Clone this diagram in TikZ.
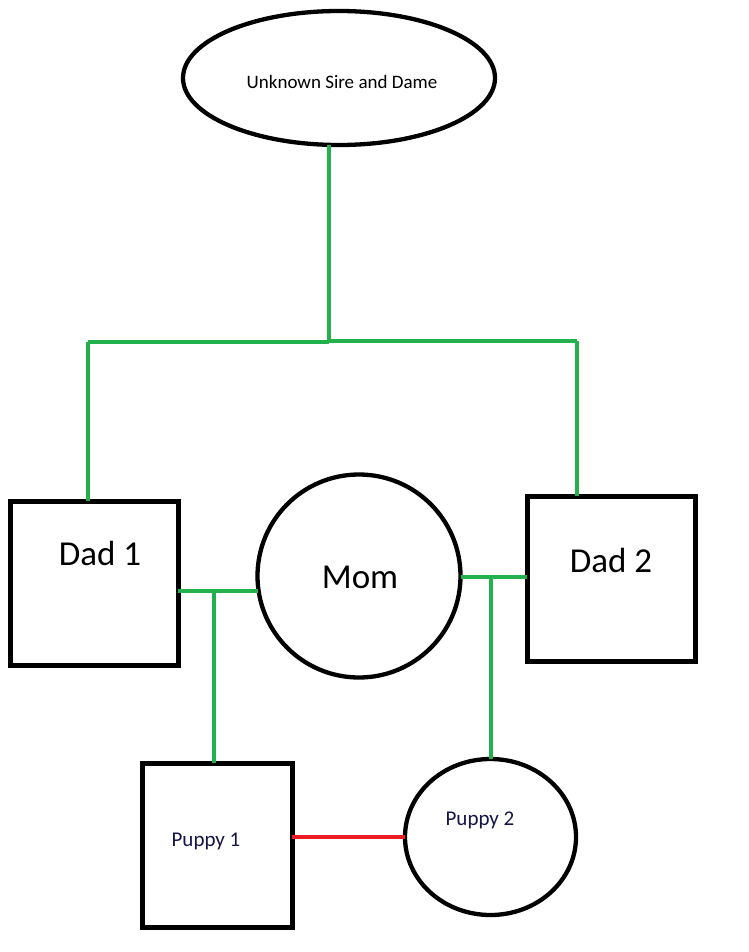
\documentclass[tikz,border=0pt]{standalone}
\usepackage{fontspec}
\setmainfont{Carlito}
\usetikzlibrary{shapes.geometric}
\definecolor{pgreen}{RGB}{34,177,76}
\definecolor{pred}{RGB}{237,28,36}
\definecolor{pnavy}{RGB}{20,20,70}
\tikzset{
  shapebox/.style={draw=black, line width=5pt, outer sep=0pt, inner sep=0pt, rectangle},
  shapeell/.style={draw=black, line width=4.3pt, outer sep=0pt, inner sep=0pt, ellipse},
  gline/.style={draw=pgreen, line width=4.5pt},
  rline/.style={draw=pred, line width=4.5pt},
  bigtxt/.style={font=\fontsize{35}{40}\selectfont, text=black, inner sep=0pt},
  smalltxt/.style={font=\fontsize{21}{24}\selectfont, text=pnavy, inner sep=0pt},
  toptxt/.style={font=\fontsize{19}{22}\selectfont, text=black, inner sep=0pt}
}
\begin{document}
\begin{tikzpicture}[x=1pt,y=-1pt]
\useasboundingbox[fill=white] (0,0) rectangle (748,952);
% shapes
\node[shapeell, minimum width=312pt, minimum height=134pt] (top) at (339,78) {};
\node[shapebox, minimum width=168pt, minimum height=164pt] (dad1) at (94,583) {};
\node[shapebox, minimum width=168pt, minimum height=165pt] (dad2) at (611,578.5) {};
\node[shapeell, minimum width=203pt, minimum height=203pt] (mom) at (359,576) {};
\node[shapebox, minimum width=150pt, minimum height=164pt] (pup1) at (217,845) {};
\node[shapeell, minimum width=171pt, minimum height=156pt] (pup2) at (490.5,837) {};
% texts
\node[toptxt] (ttop) at (342,82) {Unknown Sire and Dame};
\node[bigtxt] (tdad1) at (100,553) {Dad 1};
\node[bigtxt] (tdad2) at (611,560) {Dad 2};
\node[bigtxt] (tmom) at (360,577) {Mom};
\node[smalltxt] (tpup1) at (206,841) {Puppy 1};
\node[smalltxt] (tpup2) at (480,820) {Puppy 2};
% junctions
\coordinate (jtop) at (329,342);
\coordinate (jl) at (88,342);
\coordinate (jr) at (577,341);
\coordinate (m1) at (214,591);
\coordinate (m2) at (491,577);
% green connectors
\draw[gline] (jtop |- top.south) -- (jtop);
\draw[gline] (jl) -- (jtop);
\draw[gline] (jtop |- jr) -- (jr);
\draw[gline] (jl) -- (jl |- dad1.north);
\draw[gline] (jr) -- (jr |- dad2.north);
\draw[gline] (m1 -| dad1.east) -- (m1) -- (m1 -| mom.west);
\draw[gline] (m1) -- (m1 |- pup1.north);
\draw[gline] (m2 -| mom.east) -- (m2) -- (m2 -| dad2.west);
\draw[gline] (m2) -- (m2 |- pup2.north);
% red connector
\draw[rline] (pup2.west -| pup1.east) -- (pup2.west);
\end{tikzpicture}
\end{document}
